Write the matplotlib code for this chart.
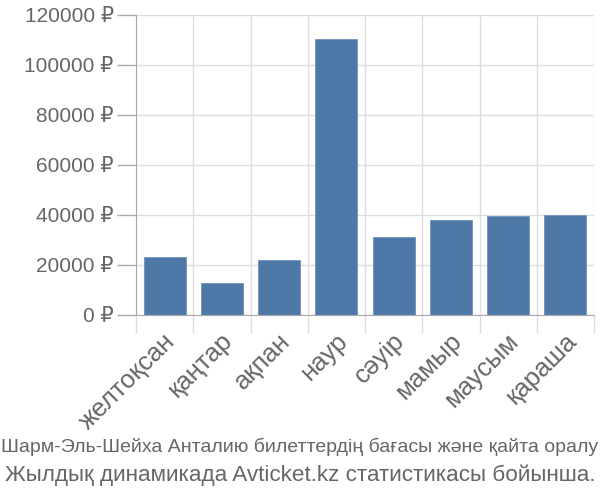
import matplotlib
matplotlib.use("Agg")
import matplotlib.pyplot as plt
import matplotlib.transforms as mtrans
from matplotlib import font_manager
import numpy as np

months = ["желтоқсан", "қаңтар", "ақпан", "наур", "сәуір", "мамыр", "маусым", "қараша"]
prices = [23200, 12800, 22200, 110400, 31400, 38200, 39600, 40200]
yticks = [0, 20000, 40000, 60000, 80000, 100000, 120000]
caption = ["Шарм-Эль-Шейха Анталию билеттердің бағасы және қайта оралу",
           "Жылдық динамикада Avticket.kz статистикасы бойынша."]
caption_widths = [598, 596]  # px wide in the reference

names = {f.name for f in font_manager.fontManager.ttflist}
narrow = "Liberation Sans Narrow" if "Liberation Sans Narrow" in names else "Liberation Sans"
plt.rcParams['font.family'] = ['Liberation Sans', 'DejaVu Sans']

text_col = "#666666"
grid_col = "#dddddd"
axis_col = "#aaaaaa"

fig = plt.figure(figsize=(6, 5), dpi=100)
ax = fig.add_axes([0.2267, 0.37, 0.7633, 0.60])

x = np.arange(len(months))
ax.bar(x, prices, width=0.73, color="#4e79a7", edgecolor="#6f93bd", linewidth=0.6, zorder=3)

ax.set_xlim(-0.5, len(months) - 0.5)
ax.set_ylim(0, 120000)
ax.set_yticks(yticks)
ax.set_yticklabels([f"{v} ₽" for v in yticks], fontsize=15, color=text_col)
ax.tick_params(axis="y", length=14, color=axis_col, width=1, pad=2)

ax.set_xticks(x)
ax.set_xticklabels(months, rotation=45, ha="right", va="center", rotation_mode="anchor",
                   fontsize=18.5, color=text_col)
ax.tick_params(axis="x", which="major", length=0, pad=16)
shift = mtrans.ScaledTranslation(7 / 100, 0, fig.dpi_scale_trans)
for lab in ax.get_xticklabels():
    lab.set_transform(lab.get_transform() + shift)
ax.set_xticks(np.arange(len(months) + 1) - 0.5, minor=True)
ax.tick_params(axis="x", which="minor", length=13, color=grid_col, width=1)

ax.grid(axis="y", color=grid_col, linewidth=1, zorder=0)
ax.grid(axis="x", which="minor", color=grid_col, linewidth=1, zorder=0)

for s in ["top", "right"]:
    ax.spines[s].set_visible(False)
ax.spines["left"].set_color(axis_col)
ax.spines["bottom"].set_color(axis_col)
ax.spines["left"].set_zorder(4)
ax.spines["bottom"].set_zorder(4)

# caption lines, scaled so each fills the width as in the reference
renderer = fig.canvas.get_renderer()
for line, target, ypos in zip(caption, caption_widths, [0.106, 0.05]):
    t = fig.text(0.5, ypos, line, ha="center", va="center", fontsize=14,
                 color=text_col, family=[narrow, 'DejaVu Sans'])
    w = t.get_window_extent(renderer).width
    t.set_fontsize(14 * target / w)

fig.savefig("out.png", dpi=100)
